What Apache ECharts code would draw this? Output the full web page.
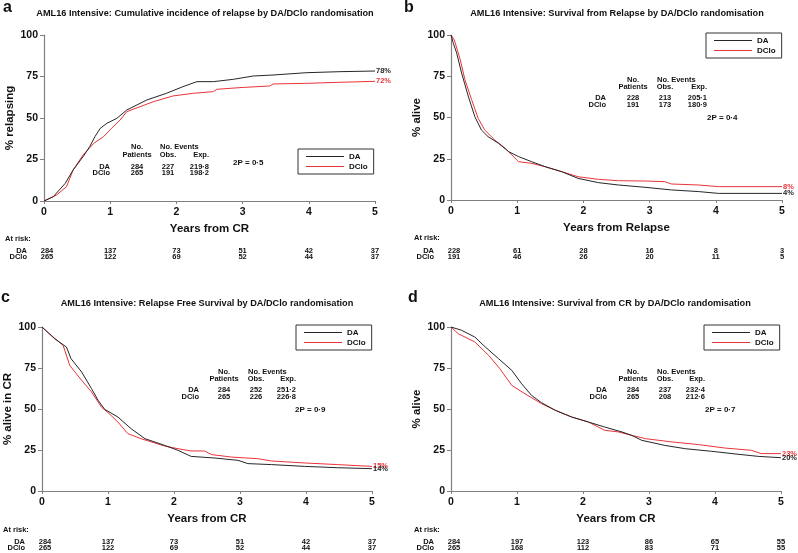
<!DOCTYPE html>
<html><head><meta charset="utf-8">
<script src="https://cdn.jsdelivr.net/npm/echarts@6/dist/echarts.min.js"></script>
<style>html,body{margin:0;padding:0;background:#fff}#c{width:798px;height:553px}</style>
</head><body><div id="c"></div>
<script>
// ---- data ----
const panelLetters = ['a','b','c','d'];
const titles = [
  'AML16 Intensive: Cumulative incidence of relapse by DA/DClo randomisation',
  'AML16 Intensive: Survival from Relapse by DA/DClo randomisation',
  'AML16 Intensive: Relapse Free Survival by DA/DClo randomisation',
  'AML16 Intensive: Survival from CR by DA/DClo randomisation'
];
const yNames = ['% relapsing','% alive','% alive in CR','% alive'];
const xNames = ['Years from CR','Years from Relapse','Years from CR','Years from CR'];
const xTicks = [0,1,2,3,4,5];
const yTicks = [0,25,50,75,100];
const groups = ['DA','DClo'];

const aDA = [[0,0],[0.14,2.6],[0.32,10.6],[0.44,18.7],[0.59,26.7],[0.69,32.7],[0.77,38.8],[0.85,43.8],[0.95,46.8],[1.10,49.8],[1.25,54.8],[1.55,60.8],[1.85,64.9],[2.1,68.9],[2.31,71.9],[2.56,71.9],[2.86,73.3],[3.16,75.3],[3.46,75.9],[3.97,77.3],[4.47,77.9],[5,78.3]];
const aDClo = [[0,0],[0.19,3.6],[0.34,8.6],[0.44,18.7],[0.59,27.7],[0.75,34.7],[0.9,38.8],[1.02,43.8],[1.15,48.8],[1.25,53.8],[1.45,56.8],[1.65,59.8],[1.95,63.3],[2.26,64.9],[2.56,65.9],[2.61,67.3],[2.96,68.3],[3.41,69.3],[3.46,70.5],[3.97,70.9],[4.47,71.5],[5,72.1]];
const bDA = [[0,100],[0.035,95],[0.086,89],[0.16,77],[0.26,63],[0.36,50.5],[0.46,42.4],[0.56,38.4],[0.72,34.3],[0.87,29.3],[1.02,26.3],[1.22,23.2],[1.42,20.2],[1.67,17.2],[1.92,13.1],[2.23,10.5],[2.53,9.1],[2.93,7.7],[3.33,6.1],[3.74,5.1],[4.04,4.0],[5,4.0]];
const bDClo = [[0,100],[0.05,97],[0.14,85],[0.21,73],[0.31,61],[0.41,49.5],[0.51,42.4],[0.66,36.4],[0.82,31.3],[0.92,27.3],[1.02,23.2],[1.22,22.2],[1.42,20.2],[1.67,17.2],[1.92,14.1],[2.23,12.5],[2.53,11.7],[2.93,11.5],[3.23,11.1],[3.33,9.7],[3.74,9.1],[4.04,8.1],[5,8.1]];
const cDA = [[0,100],[0.19,92.9],[0.37,87.8],[0.44,80.7],[0.6,72.6],[0.75,62.4],[0.85,55.3],[0.95,49.8],[1.15,45.1],[1.35,38],[1.56,31.9],[1.86,27.8],[2.06,24.8],[2.26,21.1],[2.62,20.1],[2.97,18.7],[3.12,16.7],[3.48,16.1],[3.98,15],[4.48,14.2],[5,13.6]];
const cDClo = [[0,100],[0.14,94.9],[0.32,88.8],[0.42,76.6],[0.6,67.5],[0.75,60.4],[0.9,51.2],[1.0,47.8],[1.15,42.1],[1.3,35],[1.5,31.9],[1.86,27.4],[2.06,25.8],[2.26,24.4],[2.46,24.4],[2.57,22.2],[2.87,20.7],[3.27,19.7],[3.48,18.3],[3.98,17.1],[4.48,16.1],[5,15]];
const dDA = [[0,100],[0.16,98],[0.36,93.9],[0.52,87.8],[0.72,80.7],[0.92,73.6],[1.07,65.4],[1.22,58.3],[1.37,53.9],[1.58,49.2],[1.83,45.1],[2.08,42.1],[2.33,39],[2.59,36],[2.74,33.9],[2.89,30.9],[3.24,27.8],[3.55,25.8],[3.95,24.2],[4.35,22.4],[4.66,21.1],[5,20.3]];
const dDClo = [[0,100],[0.11,95.9],[0.36,90.9],[0.57,82.7],[0.74,74.6],[0.92,64.4],[1.12,59.3],[1.37,53.3],[1.58,49.2],[1.83,45.1],[2.08,42.1],[2.33,37],[2.54,36],[2.74,33.9],[2.95,31.9],[3.35,29.9],[3.75,28.3],[4.15,26.2],[4.55,24.8],[4.7,22.8],[5,22.8]];

const endLabels = [['78%','72%'],['4%','8%'],['14%','15%'],['20%','23%']];

const atRiskDA = [[284,137,73,51,42,37],[228,61,28,16,8,3],[284,137,73,51,42,37],[284,197,123,86,65,55]];
const atRiskDClo = [[265,122,69,52,44,37],[191,46,26,20,11,5],[265,122,69,52,44,37],[265,168,112,83,71,55]];

const statsDA = [['284','227','219·8'],['228','213','205·1'],['284','252','251·2'],['284','237','232·4']];
const statsDClo = [['265','191','198·2'],['191','173','180·9'],['265','226','226·8'],['265','208','212·6']];
const pValues = ['2P = 0·5','2P = 0·4','2P = 0·9','2P = 0·7'];

// ---- layout / style ----
const FONT = '"Liberation Sans", Arial, Helvetica, sans-serif';
const BLACK = '#262626', RED = '#e8343a', AXIS = '#808080';
const grids = [
  {left:44, top:35, width:331, height:166},
  {left:451, top:35, width:331, height:165},
  {left:42, top:327, width:330, height:164},
  {left:451, top:327, width:330, height:164}
];
const titlePos = [[205,13],[617,13],[207,303],[615,303]];
const letterPos = [[3,8],[404,8],[1,298],[408,298]];
const legendPos = [[298,149],[706,33],[296,325],[704,325]];
// stats: [labelRight, patientsCenter, obsCenter, expRight, row0y(No.), row1y(Patients), daY, dcloY, pX, pY]
const statsPos = [
  [110,137,168,209,147,155,167,173,233,163],
  [606,633,665,707,80,87,98,105,707,118],
  [199,224,256,296,372,379,390,397,295,410],
  [607,633,665,705,372,379,390,397,705,410]
];
const atRiskY = [[239,251,257],[238,251,257],[530,542,548],[530,542,548]];

const seriesData = [[aDA,aDClo],[bDA,bDClo],[cDA,cDClo],[dDA,dDClo]];

const chart = echarts.init(document.getElementById('c'), null, {renderer:'canvas'});

const option = {
  animation:false,
  backgroundColor:'#fff',
  textStyle:{fontFamily:FONT},
  grid: grids.map(g=>Object.assign({containLabel:false}, g)),
  xAxis: grids.map((g,i)=>({
    gridIndex:i, type:'value', min:0, max:5, interval:1,
    name:xNames[i], nameLocation:'middle', nameGap:22,
    nameTextStyle:{fontFamily:FONT, fontSize:11.5, fontWeight:'bold', color:'#111'},
    axisLine:{show:true, onZero:false, lineStyle:{color:AXIS, width:1.2}},
    axisTick:{show:true, length:3, lineStyle:{color:AXIS}},
    axisLabel:{fontFamily:FONT, fontSize:10.5, fontWeight:'bold', color:'#111', margin:6},
    splitLine:{show:false}
  })),
  yAxis: grids.map((g,i)=>({
    gridIndex:i, type:'value', min:0, max:100, interval:25,
    name:yNames[i], nameLocation:'middle', nameGap:28, nameRotate:90,
    nameTextStyle:{fontFamily:FONT, fontSize:11.5, fontWeight:'bold', color:'#111'},
    axisLine:{show:true, onZero:false, lineStyle:{color:AXIS, width:1.2}},
    axisTick:{show:true, length:4, lineStyle:{color:AXIS}},
    axisLabel:{fontFamily:FONT, fontSize:10.5, fontWeight:'bold', color:'#111', margin:6},
    splitLine:{show:false}
  })),
  legend: legendPos.map((p,i)=>({
    data:groups.map(n=>({name:n, icon:'rect'})), orient:'vertical', left:p[0], top:p[1],
    padding:[3,6,3,8], itemGap:1, itemWidth:38, itemHeight:1.2,
    borderColor:'#333', borderWidth:1, borderRadius:0,
    selectedMode:false,
    textStyle:{fontFamily:FONT, fontSize:8, fontWeight:'bold', color:'#111', lineHeight:9}
  })),
  series: []
};
seriesData.forEach((pair,i)=>{
  pair.forEach((d,j)=>{
    option.series.push({
      name:groups[j], type:'line', xAxisIndex:i, yAxisIndex:i,
      data:d, symbol:'none', showSymbol:false,
      lineStyle:{color:j===0?BLACK:RED, width:1},
      itemStyle:{color:j===0?BLACK:RED},
      endLabel:{show:true, formatter:endLabels[i][j], distance:1,
        fontFamily:FONT, fontSize:7.5, fontWeight:'bold', color:j===0?BLACK:RED},
      z: j===0?3:2
    });
  });
});
chart.setOption(option);

// ---- texts (titles, tables, at-risk) ----
const g = [];
const txt = (x,y,s,align,opt)=>g.push({type:'text', x:x, y:y, silent:true, style:Object.assign({
  text:s, fill:'#111', fontFamily:FONT, fontSize:7.5, fontWeight:'bold',
  textAlign:align||'left', textVerticalAlign:'middle'}, opt||{})});

for (let i=0;i<4;i++){
  txt(letterPos[i][0], letterPos[i][1], panelLetters[i], 'left', {fontSize:16});
  txt(titlePos[i][0], titlePos[i][1], titles[i], 'center', {fontSize:9.2});
  const s = statsPos[i];
  txt(s[1], s[4], 'No.', 'center');
  txt(s[1], s[5], 'Patients', 'center');
  txt(s[2]-8, s[4], 'No. Events', 'left');
  txt(s[2], s[5], 'Obs.', 'center');
  txt(s[3], s[5], 'Exp.', 'right');
  txt(s[0], s[6], groups[0], 'right');
  txt(s[0], s[7], groups[1], 'right');
  txt(s[1], s[6], statsDA[i][0], 'center');
  txt(s[2], s[6], statsDA[i][1], 'center');
  txt(s[3], s[6], statsDA[i][2], 'right');
  txt(s[1], s[7], statsDClo[i][0], 'center');
  txt(s[2], s[7], statsDClo[i][1], 'center');
  txt(s[3], s[7], statsDClo[i][2], 'right');
  txt(s[8], s[9], pValues[i], 'left', {fontSize:8});

  const ay = atRiskY[i];
  const x0 = grids[i].left;
  txt(x0 - (i%2===0?39:37), ay[0], 'At risk:', 'left', {fontSize:7.5});
  txt(x0 - 17, ay[1], groups[0], 'right');
  txt(x0 - 17, ay[2], groups[1], 'right');
  xTicks.forEach((t,k)=>{
    const px = chart.convertToPixel({gridIndex:i}, [t,0])[0];
    const cx = k===0 ? px+3 : px;
    txt(cx, ay[1], String(atRiskDA[i][k]), 'center');
    txt(cx, ay[2], String(atRiskDClo[i][k]), 'center');
  });
}
chart.setOption({graphic:{elements:g}});
</script>
</body></html>
